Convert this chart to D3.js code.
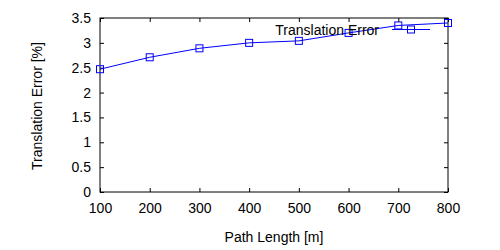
<!DOCTYPE html>
<html lang="en">
<head>
<meta charset="UTF-8">
<title>Translation Error</title>
<style>
    body { margin: 0; background: #fff; }
    text { font-family: "Liberation Sans", Arial, sans-serif; fill: #000; }
</style>
</head>
<body>
<div id="chart"></div>
<script src="https://d3js.org/d3.v7.min.js"></script>
<script type="text/javascript">
// data
const pathLengths = [100, 200, 300, 400, 500, 600, 700, 800];
const errorValues = [2.47, 2.71, 2.89, 3.0, 3.04, 3.2, 3.35, 3.40];
const xTicks = [100, 200, 300, 400, 500, 600, 700, 800];
const yTicks = [0, 0.5, 1, 1.5, 2, 2.5, 3, 3.5];
const seriesName = "Translation Error";

const margin = { top: 18, right: 52, bottom: 58, left: 100 };
const width = 500 - margin.left - margin.right;
const height = 250 - margin.top - margin.bottom;

const svg = d3.select("#chart")
    .append("svg")
    .attr("width", 500)
    .attr("height", 250)
    .append("g")
    .attr("transform", `translate(${margin.left},${margin.top})`);

const xScale = d3.scaleLinear().domain([100, 800]).range([0, width]);
const yScale = d3.scaleLinear().domain([0, 3.5]).range([height, 0]);

// inward ticks on all four sides, gnuplot style
const tickLen = 4;
const tickFmt = d3.format("");

svg.append("g")
    .attr("transform", `translate(0, ${height})`)
    .call(d3.axisBottom(xScale).tickValues(xTicks).tickSize(-tickLen).tickPadding(11).tickFormat(tickFmt));
svg.append("g")
    .call(d3.axisLeft(yScale).tickValues(yTicks).tickSize(-tickLen).tickPadding(9).tickFormat(tickFmt));
svg.append("g")
    .call(d3.axisTop(xScale).tickValues(xTicks).tickSize(-tickLen).tickFormat(""));
svg.append("g")
    .attr("transform", `translate(${width}, 0)`)
    .call(d3.axisRight(yScale).tickValues(yTicks).tickSize(-tickLen).tickFormat(""));

svg.selectAll(".domain").remove();
svg.selectAll(".tick line").attr("stroke", "#000");
svg.selectAll(".tick text")
    .style("font-size", "14px")
    .style("font-family", "'Liberation Sans', Arial, sans-serif")
    .attr("fill", "#000");

// border
svg.append("rect")
    .attr("x", 0).attr("y", 0)
    .attr("width", width).attr("height", height)
    .attr("fill", "none")
    .attr("stroke", "#000")
    .attr("stroke-width", 1);

// axis labels
svg.append("text")
    .attr("x", width / 2)
    .attr("y", height + 50)
    .attr("text-anchor", "middle")
    .style("font-size", "14px")
    .text("Path Length [m]");

svg.append("text")
    .attr("transform", "rotate(-90)")
    .attr("x", -(106 - margin.top))
    .attr("y", -58)
    .attr("text-anchor", "middle")
    .style("font-size", "14px")
    .text("Translation Error [%]");

const data = pathLengths.map((d, i) => ({ x: d, y: errorValues[i] }));

const line = d3.line()
    .x(d => xScale(d.x))
    .y(d => yScale(d.y));

svg.append("path")
    .datum(data)
    .attr("fill", "none")
    .attr("stroke", "#0000ff")
    .attr("stroke-width", 1)
    .attr("d", line);

const mk = 7;
svg.selectAll(".point")
    .data(data)
    .enter()
    .append("rect")
    .attr("class", "point")
    .attr("x", d => xScale(d.x) - mk / 2)
    .attr("y", d => yScale(d.y) - mk / 2)
    .attr("width", mk)
    .attr("height", mk)
    .attr("fill", "none")
    .attr("stroke", "#0000ff")
    .attr("stroke-width", 1);

// key, top right
const key = svg.append("g").attr("transform", `translate(${392 - margin.left}, ${29.5 - margin.top})`);
key.append("text")
    .attr("x", -13)
    .attr("y", 5)
    .attr("text-anchor", "end")
    .style("font-size", "14px")
    .text(seriesName);
key.append("line")
    .attr("x1", 0).attr("x2", 38)
    .attr("y1", 0).attr("y2", 0)
    .attr("stroke", "#0000ff");
key.append("rect")
    .attr("x", 19 - mk / 2).attr("y", -mk / 2)
    .attr("width", mk).attr("height", mk)
    .attr("fill", "none")
    .attr("stroke", "#0000ff");
</script>
</body>
</html>
